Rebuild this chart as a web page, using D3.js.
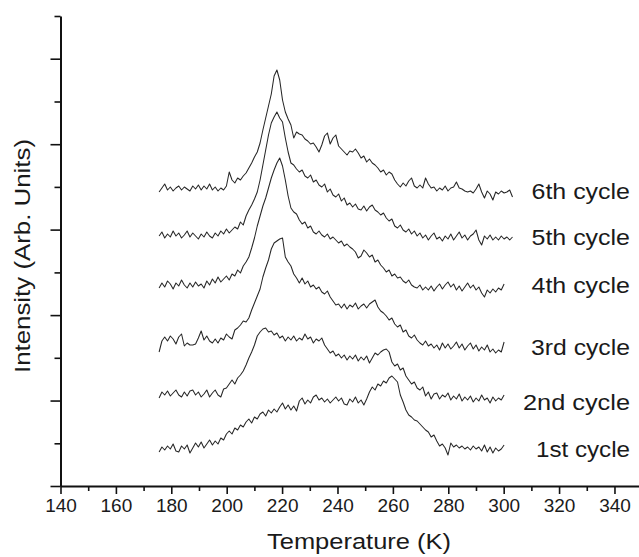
<!DOCTYPE html>
<html><head><meta charset="utf-8">
<script src="https://cdn.jsdelivr.net/npm/d3@7/dist/d3.min.js"></script>
<style>
body{margin:0;background:#fff}
svg{display:block}
text{font-family:"Liberation Sans",Arial,Helvetica,sans-serif;fill:#1a1a1a}
</style>
</head><body>
<svg id="chart" width="639" height="557"></svg>
<script>
// ---------- data ----------
const cycleNames = ["1st cycle","2nd cycle","3rd cycle","4th cycle","5th cycle","6th cycle"];
// temperature sampling grid (K)
const tempStart = 175.6;
const tempStep = 1.0126;

// intensities (arb. units), one value per temperature step
const cycle1 = [34,39,36,40,37,42,35,34,40,37, 41,33,38,43,39,44,38,42,46,41, 45,42,48,46,52,55,52,58,56,61,
  59,64,67,63,69,67,72,74,70,76, 73,77,74,79,83,77,81,76,80,75, 85,88,82,86,83,89,91,86,88,84,
  87,83,86,89,85,88,82,81,87,84, 89,83,86,81,87,94,99,96,102,100, 105,103,108,110,107,104,91,84,76,71,
  69,66,65,62,59,56,54,49,51,45, 40,42,38,31,43,39,41,38,40,37, 39,36,40,37,39,35,41,34,39,33, 38,35,37,41];
const cycle2 = [88,94,91,95,90,93,96,91,89,94, 90,95,96,91,94,89,92,96,89,93, 96,91,89,97,98,102,106,102,108,111,
  115,121,128,134,141,150,154,157,158,154, 155,151,153,148,150,145,149,146,150,145, 148,146,152,147,149,143,147,145,148,141,
  137,133,135,130,132,128,131,126,130,127, 131,125,129,126,130,123,128,133,131,134, 136,137,134,124,120,122,116,118,110,106,
  102,104,98,96,99,90,94,87,92,93, 87,91,89,93,86,90,87,92,85,89, 86,90,84,88,85,91,86,88,83,89, 85,88,86,91];
const cycle3 = [134,145,149,145,150,147,142,149,152,140, 143,141,141,142,148,155,146,150,145,143, 147,143,148,146,152,149,147,156,158,161,
  165,164,168,176,183,190,197,209,218,226, 237,243,245,247,248,229,224,220,212,208, 203,208,202,205,199,201,197,199,194,192,
  195,189,185,181,182,178,182,177,181,179, 183,177,180,182,178,182,184,186,179,175, 173,170,166,168,162,159,161,154,156,150,
  148,151,146,143,141,145,140,142,138,141, 136,143,138,142,137,140,144,138,142,136, 140,143,137,141,135,139,136,141,134,137, 133,136,134,144];
const cycle4 = [198,203,199,205,202,197,203,200,206,201, 198,203,199,204,200,202,198,205,201,207, 203,209,204,207,210,206,212,210,216,213,
  220,224,229,238,248,260,270,280,288,298, 308,316,323,328,320,306,290,278,274,272, 266,262,264,258,260,254,252,255,251,249,
  252,247,249,246,243,245,240,242,239,237, 234,228,230,236,233,229,231,224,226,221, 218,214,216,210,212,208,209,205,203,206,
  201,199,198,201,196,199,196,200,195,199, 202,197,201,204,199,202,196,200,195,199, 203,198,201,196,199,193,189,196,193,197, 194,198,196,202];
const cycle5 = [250,254,248,252,249,255,250,253,248,251, 255,249,253,250,247,252,249,254,250,248, 253,250,255,252,257,253,256,259,257,264,
  261,270,276,281,287,294,306,321,336,351, 363,369,374,368,364,348,334,323,321,317, 314,316,310,308,311,304,306,301,299,302,
  294,297,291,289,292,285,288,281,283,279, 282,277,276,280,275,279,281,276,274,271, 273,268,265,267,260,258,261,256,254,257,
  252,255,250,253,248,251,246,250,253,247, 249,245,250,247,252,246,250,254,248,251, 246,250,252,256,246,241,250,247,251,246, 249,246,250,247,249,246,249];
const cycle6 = [294,298,302,296,299,295,298,300,296,299, 297,295,300,297,301,296,300,297,302,296, 299,295,298,296,300,314,306,303,308,306,
  310,313,318,323,329,334,343,356,368,380, 392,410,416,406,386,374,367,361,348,354, 352,351,347,345,342,343,339,334,341,350,
  353,342,348,351,340,337,334,331,335,334, 337,333,328,330,324,327,323,321,318,314, 316,311,314,312,306,302,299,303,300,305,
  308,300,298,301,298,308,302,298,299,295, 298,296,300,295,298,299,304,298,297,295, 294,295,293,297,302,294,288,295,292,286, 294,292,295,293,294,296,289];
const seriesValues = [cycle1, cycle2, cycle3, cycle4, cycle5, cycle6];

const xTickLabels = [140,160,180,200,220,240,260,280,300,320,340];
const xMinorTicks = [150,170,190,210,230,250,270,290,310,330];
const yMajorTicks = [0,85.45,170.9,256.4,341.8,427.3];
const yMinorTicks = [42.7,128.2,213.6,299.1,384.5,470];

// ---------- layout ----------
const axisLeft = 60.5, axisBottom = 486, axisTop = 16, axisRight = 639.4;
const labelBaselines = [457, 410, 355, 293, 245, 199];
const labelWidths = [94, 107, 99, 98.5, 98.5, 98.5];

const svg = d3.select("#chart");
const x = d3.scaleLinear().domain([140, 349]).range([axisLeft, axisRight]);
const y = d3.scaleLinear().domain([0, 470]).range([axisBottom, axisTop]);

// curves
const line = d3.line().x(d => x(d[0])).y(d => y(d[1]));
seriesValues.forEach(vals => {
  const pts = vals.map((v, i) => [tempStart + i * tempStep, v]);
  svg.append("path").attr("d", line(pts))
    .attr("fill", "none").attr("stroke", "#262626").attr("stroke-width", 1.05)
    .attr("stroke-linejoin", "round");
});

// x axis
const gx = svg.append("g").attr("transform", `translate(0,${axisBottom})`);
gx.call(d3.axisBottom(x).tickValues(xTickLabels).tickSize(8).tickSizeOuter(0).tickFormat(d3.format("d")));
gx.append("g").call(d3.axisBottom(x).tickValues(xMinorTicks).tickSize(5).tickFormat(""))
  .select(".domain").remove();
gx.selectAll(".domain").attr("stroke", "#111").attr("stroke-width", 2);
gx.selectAll(".tick line").attr("stroke", "#111").attr("stroke-width", 1.6);
gx.selectAll(".tick text").attr("font-size", 19).attr("dy", "0.95em").attr("y", 8)
  .attr("fill", "#1a1a1a").style("font-family", '"Liberation Sans",Arial,sans-serif');

// y axis
const gy = svg.append("g").attr("transform", `translate(${axisLeft},0)`);
gy.call(d3.axisLeft(y).tickValues(yMajorTicks).tickSize(10).tickSizeOuter(0).tickFormat(""));
gy.append("g").call(d3.axisLeft(y).tickValues(yMinorTicks).tickSize(6).tickFormat(""))
  .select(".domain").remove();
gy.selectAll(".domain").attr("stroke", "#111").attr("stroke-width", 2);
gy.selectAll(".tick line").attr("stroke", "#111").attr("stroke-width", 1.6);

// axis titles
svg.append("text").attr("x", 359).attr("y", 549).attr("text-anchor", "middle")
  .attr("font-size", 22).attr("textLength", 184).attr("lengthAdjust", "spacingAndGlyphs")
  .text("Temperature (K)");
svg.append("text").attr("transform", "translate(30,256) rotate(-90)").attr("text-anchor", "middle")
  .attr("font-size", 22).attr("textLength", 234).attr("lengthAdjust", "spacingAndGlyphs")
  .text("Intensity (Arb. Units)");

// cycle labels
cycleNames.forEach((name, i) => {
  svg.append("text").attr("x", 630).attr("y", labelBaselines[i]).attr("text-anchor", "end")
    .attr("font-size", 22).attr("textLength", labelWidths[i]).attr("lengthAdjust", "spacingAndGlyphs")
    .text(name);
});
</script>
</body></html>
